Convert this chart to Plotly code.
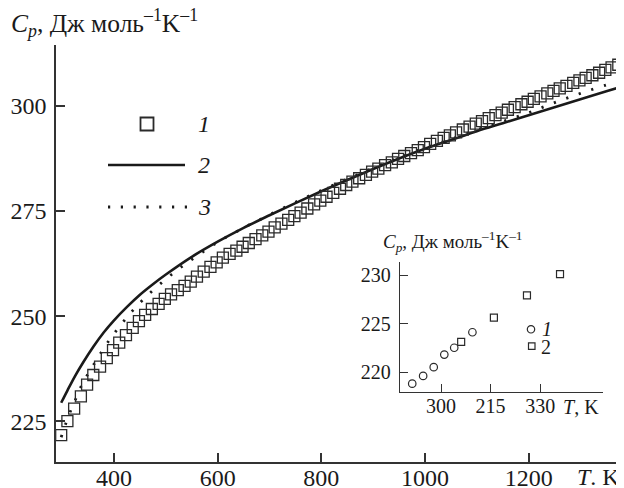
import plotly.graph_objects as go

# ---------------- data ----------------
# series 1: experimental points (squares)
T1 = [298, 310, 323, 336, 348, 360, 373, 386, 398, 410, 423, 436, 448, 460, 473, 486, 498, 510,
      523, 536, 548, 560, 573, 586, 598, 610, 623, 636, 648, 660, 673, 686, 698, 710, 723, 736,
      748, 760, 773, 786, 798, 810, 823, 836, 848, 860, 873, 886, 898, 910, 923, 936, 948, 960,
      973, 986, 998, 1010, 1023, 1036, 1048, 1060, 1073, 1086, 1098, 1110, 1123, 1136, 1148, 1160,
      1173, 1186, 1198, 1210, 1223, 1236, 1248, 1260, 1273, 1286, 1298, 1310, 1323, 1336, 1348,
      1360, 1373]
Cp1 = [221.7, 225.0, 228.0, 230.9, 233.7, 236.0, 238.0, 240.0, 241.9, 243.7,
       245.5, 247.2, 248.8, 250.3, 251.7, 252.9, 254.1, 255.2, 256.2, 257.2,
       258.2, 259.4, 260.6, 261.7, 262.8, 263.9, 264.8, 265.6, 266.5, 267.4,
       268.3, 269.2, 270.1, 271.1, 272.0, 272.9, 273.8, 274.6, 275.6, 276.6,
       277.5, 278.4, 279.3, 280.3, 281.2, 282.0, 282.8, 283.6, 284.4, 285.1,
       285.9, 286.6, 287.4, 288.1, 288.8, 289.5, 290.2, 291.0, 291.7, 292.4,
       293.0, 293.7, 294.4, 295.1, 295.8, 296.4, 297.1, 297.8, 298.4, 299.1,
       299.7, 300.4, 301.0, 301.7, 302.3, 303.0, 303.6, 304.2, 304.8, 305.5,
       306.1, 306.7, 307.3, 307.9, 308.6, 309.2, 309.8]

# series 2: solid curve
T2 = [298, 310, 325, 340, 360, 380, 400, 425, 450, 475, 500, 550, 600, 650, 700, 750, 800,
      850, 900, 950, 1000, 1050, 1100, 1150, 1200, 1250, 1300, 1350, 1380]
Cp2 = [229.4, 232.3, 235.8, 238.9, 242.7, 246.1, 249.0, 252.2, 255.1, 257.6, 259.9, 264.1,
       267.7, 271.0, 274.0, 276.9, 279.7, 282.4, 285.0, 287.5, 289.8, 291.9, 294.0, 295.9,
       297.8, 299.7, 301.6, 303.5, 304.6]

# series 3: dotted curve
T3 = [298, 305, 315, 325, 335, 350, 365, 380, 395, 415, 435, 455, 480, 505, 530, 560, 600,
      650, 700, 750, 800, 850, 900, 950, 1000, 1050, 1100, 1150, 1200, 1250, 1300, 1350, 1380]
Cp3 = [221.2, 223.8, 227.1, 230.0, 232.9, 236.3, 239.3, 242.3, 245.0, 248.2, 251.2, 253.8,
       256.7, 259.3, 261.7, 264.3, 267.6, 271.0, 274.1, 277.1, 279.9, 282.6, 285.2, 287.7,
       290.0, 292.1, 294.3, 296.3, 298.4, 300.8, 303.0, 305.0, 306.0]

# inset: low-temperature points
Tin1 = [291.3, 294.6, 297.8, 301.0, 304.0, 309.5]      # circles, series 1
Cpin1 = [218.8, 219.6, 220.5, 221.8, 222.5, 224.1]
Tin2 = [306.1, 316.0, 326.0, 336.0]                    # squares, series 2
Cpin2 = [223.1, 225.6, 227.9, 230.1]

main_xticks = [400, 600, 800, 1000, 1200]
main_yticks = [225, 250, 275, 300]
inset_xticks = [300, 315, 330]
inset_xticktext = ["300", "215", "330"]
inset_yticks = [220, 225, 230]

legend_labels = ["1", "2", "3"]
inset_legend_labels = ["1", "2"]

# ---------------- figure ----------------
FONT = "Liberation Serif"
INK = "#1a1a1a"
AX = "#333333"

# the page body has an 8px margin, so the figure is sized to fill the rest of the window
OFF = 8
W, H = 624 - OFF, 488 - OFF
ML, MR, MT, MB = 56 - OFF, 0, 45 - OFF, 26
PW, PH = W - ML - MR, H - MT - MB


def fx(p):
    # p: pixel position in the window
    return (p - OFF - ML) / PW


def fy(p):
    return (H - MB - (p - OFF)) / PH


fig = go.Figure()

fig.add_trace(go.Scatter(x=T2, y=Cp2, mode="lines", line=dict(color=INK, width=2.6, shape="spline"),
                         showlegend=False, hoverinfo="skip"))
fig.add_trace(go.Scatter(x=T3, y=Cp3, mode="lines",
                         line=dict(color=INK, width=2.8, dash="2.2px,11px", shape="spline"),
                         showlegend=False, hoverinfo="skip"))
fig.add_trace(go.Scatter(x=T1, y=Cp1, mode="markers",
                         marker=dict(symbol="square-open", size=11, color="#2a2a2a",
                                     line=dict(width=1.3, color="#2a2a2a")),
                         showlegend=False, cliponaxis=False))

fig.add_trace(go.Scatter(x=Tin1, y=Cpin1, mode="markers", xaxis="x2", yaxis="y2",
                         marker=dict(symbol="circle-open", size=7.5, color="#2a2a2a",
                                     line=dict(width=1.2, color="#2a2a2a")),
                         showlegend=False, cliponaxis=False))
fig.add_trace(go.Scatter(x=Tin2, y=Cpin2, mode="markers", xaxis="x2", yaxis="y2",
                         marker=dict(symbol="square-open", size=7, color="#2a2a2a",
                                     line=dict(width=1.2, color="#2a2a2a")),
                         showlegend=False, cliponaxis=False))

axis_common = dict(showline=True, linecolor=AX, linewidth=1.6, ticks="inside",
                   tickcolor=AX, tickwidth=1.5, showgrid=False, zeroline=False,
                   automargin=False,
                   tickfont=dict(family=FONT, size=24, color=INK))
inset_common = {**axis_common, "tickfont": dict(family=FONT, size=20, color=INK),
                "linewidth": 1.4, "tickwidth": 1.3}

fig.update_layout(
    width=W, height=H, autosize=False,
    margin=dict(l=ML, r=MR, t=MT, b=MB, pad=0, autoexpand=False),
    paper_bgcolor="white", plot_bgcolor="white",
    showlegend=False,
    xaxis=dict(range=[288, 1384], tickvals=main_xticks, ticklen=9,
               ticklabelstandoff=-7, **axis_common),
    yaxis=dict(range=[215.3, 314.5], tickvals=main_yticks, ticklen=9,
               ticklabelstandoff=3, **axis_common),
    xaxis2=dict(domain=[fx(400), fx(603)], anchor="y2", range=[287.6, 349],
                tickvals=inset_xticks, ticktext=inset_xticktext, ticklen=8,
                ticklabelstandoff=-4, **inset_common),
    yaxis2=dict(domain=[fy(392), fy(262)], anchor="x2", range=[217.94, 231.34],
                tickvals=inset_yticks, ticklen=8, ticklabelstandoff=4, **inset_common),
)

# ---- legend (main) drawn as key glyphs + labels
shapes = []
shapes.append(dict(type="rect", xref="paper", yref="paper",
                   x0=fx(140.5), x1=fx(153.5), y0=fy(130.5), y1=fy(117.5),
                   line=dict(color="#2a2a2a", width=1.8), fillcolor="rgba(0,0,0,0)"))
shapes.append(dict(type="line", xref="paper", yref="paper",
                   x0=fx(108), x1=fx(185), y0=fy(165), y1=fy(165),
                   line=dict(color=INK, width=2.6)))
shapes.append(dict(type="line", xref="paper", yref="paper",
                   x0=fx(108), x1=fx(188), y0=fy(207), y1=fy(207),
                   line=dict(color=INK, width=2.8, dash="2.2px,10.6px")))
# inset legend glyphs
shapes.append(dict(type="circle", xref="paper", yref="paper",
                   x0=fx(527.3), x1=fx(534.7), y0=fy(333), y1=fy(325.6),
                   line=dict(color="#2a2a2a", width=1.2), fillcolor="rgba(0,0,0,0)"))
shapes.append(dict(type="rect", xref="paper", yref="paper",
                   x0=fx(528.5), x1=fx(535), y0=fy(349.3), y1=fy(342.8),
                   line=dict(color="#2a2a2a", width=1.2), fillcolor="rgba(0,0,0,0)"))
fig.update_layout(shapes=shapes)

ann = []
for lab, yy in zip(legend_labels, [124, 165, 207]):
    ann.append(dict(x=fx(204), y=fy(yy), xref="paper", yref="paper", text="<i>%s</i>" % lab,
                    showarrow=False, font=dict(family=FONT, size=24, color=INK),
                    xanchor="center", yanchor="middle"))
ann.append(dict(x=fx(547), y=fy(329), xref="paper", yref="paper",
                text="<i>%s</i>" % inset_legend_labels[0], showarrow=False,
                font=dict(family=FONT, size=20, color=INK), xanchor="center", yanchor="middle"))
ann.append(dict(x=fx(546), y=fy(347), xref="paper", yref="paper",
                text=inset_legend_labels[1], showarrow=False,
                font=dict(family=FONT, size=20, color=INK), xanchor="center", yanchor="middle"))
# axis titles
ann.append(dict(x=fx(9), y=fy(23), xref="paper", yref="paper",
                text="<i>C</i><sub><i>p</i></sub>, Дж моль<sup>–1</sup>K<sup>–1</sup>",
                showarrow=False, font=dict(family=FONT, size=25.5, color=INK),
                xanchor="left", yanchor="middle"))
ann.append(dict(x=fx(622), y=fy(477), xref="paper", yref="paper",
                text="<i>T</i>. K", showarrow=False, font=dict(family=FONT, size=24, color=INK),
                xanchor="right", yanchor="middle"))
ann.append(dict(x=fx(381), y=fy(242), xref="paper", yref="paper",
                text="<i>C</i><sub><i>p</i></sub>, Дж моль<sup>–1</sup>K<sup>–1</sup>",
                showarrow=False, font=dict(family=FONT, size=19, color=INK),
                xanchor="left", yanchor="middle"))
ann.append(dict(x=fx(601), y=fy(407), xref="paper", yref="paper",
                text="<i>T</i>, K", showarrow=False, font=dict(family=FONT, size=20, color=INK),
                xanchor="right", yanchor="middle"))
fig.update_layout(annotations=ann)

fig.write_html("out.html")
